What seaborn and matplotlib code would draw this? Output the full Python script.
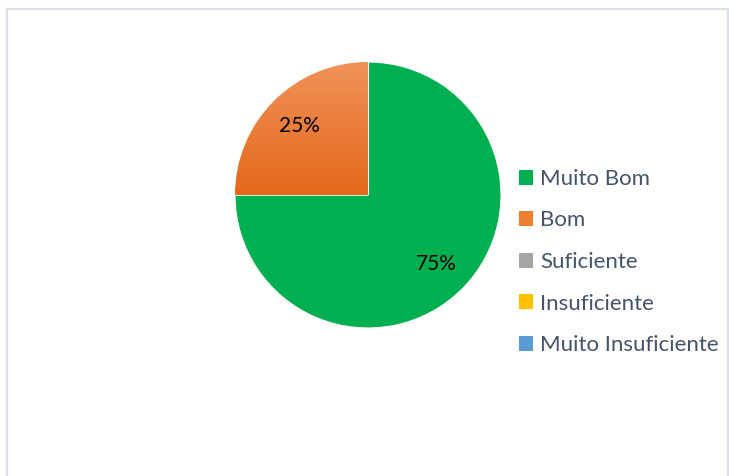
import numpy as np
import matplotlib.pyplot as plt
import matplotlib.patches as mpatches
import seaborn as sns

# avaliação
categorias = ["Muito Bom", "Bom", "Suficiente", "Insuficiente", "Muito Insuficiente"]
percentagens = [75, 25, 0, 0, 0]
cores = ["#00b050", "#ed7d31", "#a5a5a5", "#ffc000", "#5b9bd5"]

sns.set_theme(style="white")
plt.rcParams["font.family"] = ["Lato", "DejaVu Sans"]

W, H = 729, 476
fig = plt.figure(figsize=(W / 100, H / 100), dpi=100)
fig.patch.set_facecolor("white")

# moldura do gráfico (estilo Excel)
moldura = mpatches.Rectangle((7 / W, -0.05), (728 - 7) / W, 1.05 - 9 / H,
                             transform=fig.transFigure, fill=False,
                             edgecolor="#dde1e7", linewidth=1.6, clip_on=False)
fig.patches.append(moldura)

# eixo da pizza: centro (368,195), raio 133 px
cx, cy, r = 368, 195, 133
ax = fig.add_axes([(cx - r) / W, 1 - (cy + r) / H, 2 * r / W, 2 * r / H])

wedges, textos, autotextos = ax.pie(
    percentagens, colors=cores, startangle=90, counterclock=False,
    autopct=lambda p: f"{p:.0f}%" if p > 0 else "", pctdistance=0.73,
    wedgeprops=dict(edgecolor="white", linewidth=0.8),
    textprops=dict(fontsize=15, color="black"),
)
ax.set_xlim(-1, 1)
ax.set_ylim(-1, 1)
ax.set_aspect("equal")

# gradiente no setor laranja
grad = np.linspace(0, 1, 256).reshape(-1, 1)
cmap = sns.blend_palette(["#f19159", "#e4691a"], as_cmap=True)
img = ax.imshow(grad, cmap=cmap, extent=(-1, 0, 0, 1), origin="upper",
                aspect="auto", zorder=wedges[1].get_zorder() + 0.1)
img.set_clip_path(wedges[1])
for t in autotextos:
    t.set_zorder(5)

# legenda
handles = [mpatches.Patch(facecolor=c, edgecolor="none") for c in cores]
fig.legend(handles, categorias, loc="center left",
           bbox_to_anchor=(519 / W, 1 - 262 / H), frameon=False,
           fontsize=16, labelcolor="#44546a", borderpad=0, borderaxespad=0,
           handlelength=0.65, handleheight=0.65, handletextpad=0.3,
           labelspacing=0.97)

fig.savefig("out.png", dpi=100, facecolor="white")
